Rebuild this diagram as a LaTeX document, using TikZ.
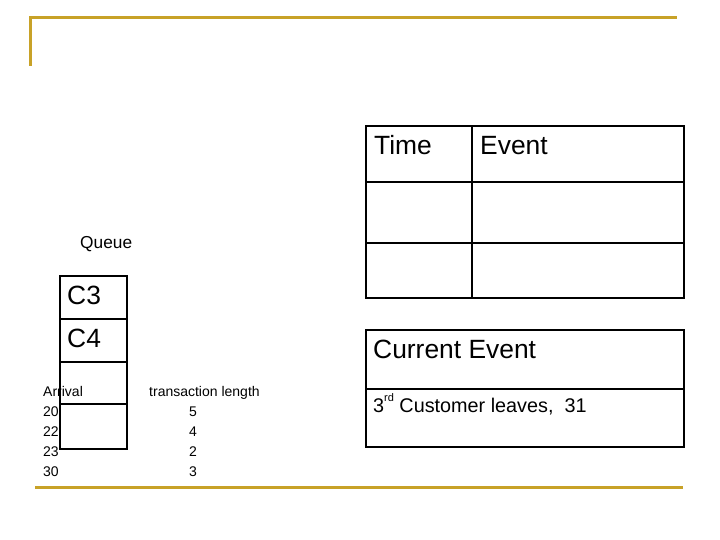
\documentclass[tikz,border=0pt]{standalone}
\usepackage{fontspec}
\setmainfont{Liberation Sans}
\definecolor{gold}{RGB}{200,162,40}
\begin{document}
\begin{tikzpicture}[x=1pt,y=-1pt,
  goldline/.style={draw=gold,line width=3pt},
  outerbox/.style={draw=black,line width=2.7pt},
  innerline/.style={draw=black,line width=1.9pt},
  big/.style={anchor=base west,inner sep=0pt,font=\fontsize{26.4}{30}\selectfont},
  mid/.style={anchor=base west,inner sep=0pt,font=\fontsize{19.8}{23}\selectfont},
  small/.style={anchor=base west,inner sep=0pt,font=\fontsize{14}{16}\selectfont},
  smallc/.style={anchor=base,inner sep=0pt,font=\fontsize{14}{16}\selectfont}]
\useasboundingbox (0,0) rectangle (720,540);
% gold frame lines
\coordinate (g1) at (30,66);
\coordinate (g2) at (30,18);
\coordinate (g3) at (677,18);
\coordinate (g4) at (35,487);
\coordinate (g5) at (683,487);
\draw[goldline] (g1) -- (g2) -- (g3);
\draw[goldline] (g4) -- (g5);
% Time / Event table
\draw[innerline] (472,126) -- (472,298);
\draw[innerline] (366,182) -- (684,182);
\draw[innerline] (366,243) -- (684,243);
\draw[outerbox] (366,126) rectangle (684,298);
\node[big] (time) at (374,155) {Time};
\node[big] (event) at (480,155) {Event};
% Current event
\draw[innerline] (366,389) -- (684,389);
\draw[outerbox] (366,330) rectangle (684,447);
\node[big] (cur) at (373,358) {Current Event};
\node[mid] (leave) at (373,412) {3\raisebox{0.55em}{\fontsize{11}{12}\selectfont rd} Customer leaves,~ 31};
% Queue
\node[anchor=base west,inner sep=0pt,font=\fontsize{17.3}{19}\selectfont] (queue) at (80,248) {Queue};
\node[small] (arr) at (43,396) {Arrival};
\node[small] (a1) at (43,416) {20};
\node[small] (a2) at (43,436) {22};
\node[small] (a3) at (43,456) {23};
\node[small] (a4) at (43,476) {30};
\node[small] (tl) at (149,396) {transaction length};
\node[smallc] (t1) at (193,416) {5};
\node[smallc] (t2) at (193,436) {4};
\node[smallc] (t3) at (193,456) {2};
\node[smallc] (t4) at (193,476) {3};
\draw[innerline] (60,319) -- (127,319);
\draw[innerline] (60,362) -- (127,362);
\draw[innerline] (60,404) -- (127,404);
\draw[outerbox] (60,276) rectangle (127,449);
\node[big] (c3) at (67,304) {C3};
\node[big] (c4) at (67,347) {C4};
\end{tikzpicture}
\end{document}
